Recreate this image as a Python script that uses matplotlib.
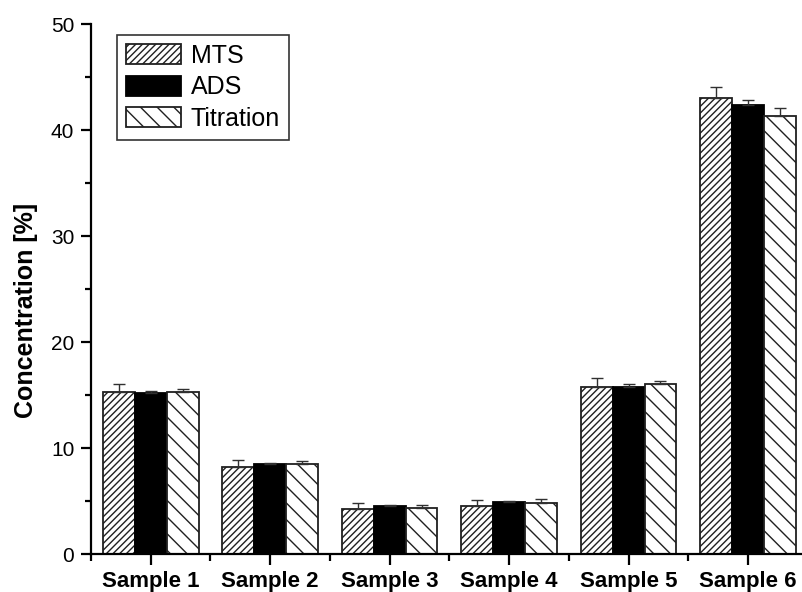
import numpy as np
import matplotlib
matplotlib.use('Agg')
import matplotlib.pyplot as plt
from matplotlib.ticker import MultipleLocator, FixedLocator

plt.rcParams['font.family'] = ['Liberation Sans', 'DejaVu Sans']
plt.rcParams['hatch.linewidth'] = 1.0

samples = ['Sample 1', 'Sample 2', 'Sample 3', 'Sample 4', 'Sample 5', 'Sample 6']
mts = [15.3, 8.2, 4.2, 4.5, 15.8, 43.0]
mts_err = [0.75, 0.7, 0.65, 0.55, 0.8, 1.05]
ads = [15.2, 8.45, 4.5, 4.9, 15.8, 42.4]
ads_err = [0.15, 0.1, 0.15, 0.12, 0.2, 0.45]
titration = [15.3, 8.5, 4.35, 4.8, 16.0, 41.3]
titration_err = [0.25, 0.3, 0.3, 0.35, 0.3, 0.8]

fig = plt.figure(figsize=(8.03, 5.92), dpi=100)
ax = fig.add_axes([91/803, 38/592, 712/803, 530/592])

x = np.arange(1, len(samples) + 1)
w = 0.8 / 3
err_kw = dict(ecolor='#303030', elinewidth=1.0, capsize=4, capthick=1.0)

ax.bar(x - w, mts, w, yerr=[np.zeros(6), mts_err], color='white', edgecolor='#202020',
       linewidth=1.3, hatch='/////', label='MTS', error_kw=err_kw)
ax.bar(x, ads, w, yerr=[np.zeros(6), ads_err], color='black', edgecolor='black',
       linewidth=1.3, label='ADS', error_kw=err_kw)
ax.bar(x + w, titration, w, yerr=[np.zeros(6), titration_err], color='white', edgecolor='#202020',
       linewidth=1.3, hatch='\\\\', label='Titration', error_kw=err_kw)

ax.set_xlim(0.5, 6.46)
ax.set_ylim(0, 50)
ax.spines['top'].set_visible(False)
ax.spines['right'].set_visible(False)
ax.spines['left'].set_linewidth(1.6)
ax.spines['bottom'].set_linewidth(1.6)

ax.set_xticks(x)
ax.set_xticklabels(samples, fontsize=16, fontweight='bold')
ax.xaxis.set_minor_locator(FixedLocator(np.arange(0.5, 7, 1.0)))
ax.yaxis.set_major_locator(MultipleLocator(10))
ax.yaxis.set_minor_locator(MultipleLocator(5))
ax.tick_params(axis='x', which='major', length=8, width=1.6, pad=4)
ax.tick_params(axis='x', which='minor', length=5, width=1.6)
ax.tick_params(axis='y', which='major', length=7, width=1.6, labelsize=15, pad=5)
ax.tick_params(axis='y', which='minor', length=4, width=1.6)

ax.set_ylabel('Concentration [%]', fontsize=18, fontweight='bold')
ax.yaxis.set_label_coords(-0.075, 0.46)

leg = ax.legend(loc='upper left', bbox_to_anchor=(26/712, 519/530), fontsize=18,
                frameon=True, fancybox=False, handlelength=2.2, handleheight=0.85,
                borderaxespad=0, handletextpad=0.4, labelspacing=0.3, borderpad=0.35)
leg.get_frame().set_edgecolor('black')
leg.get_frame().set_linewidth(1.2)

fig.savefig('out.png', dpi=100)
